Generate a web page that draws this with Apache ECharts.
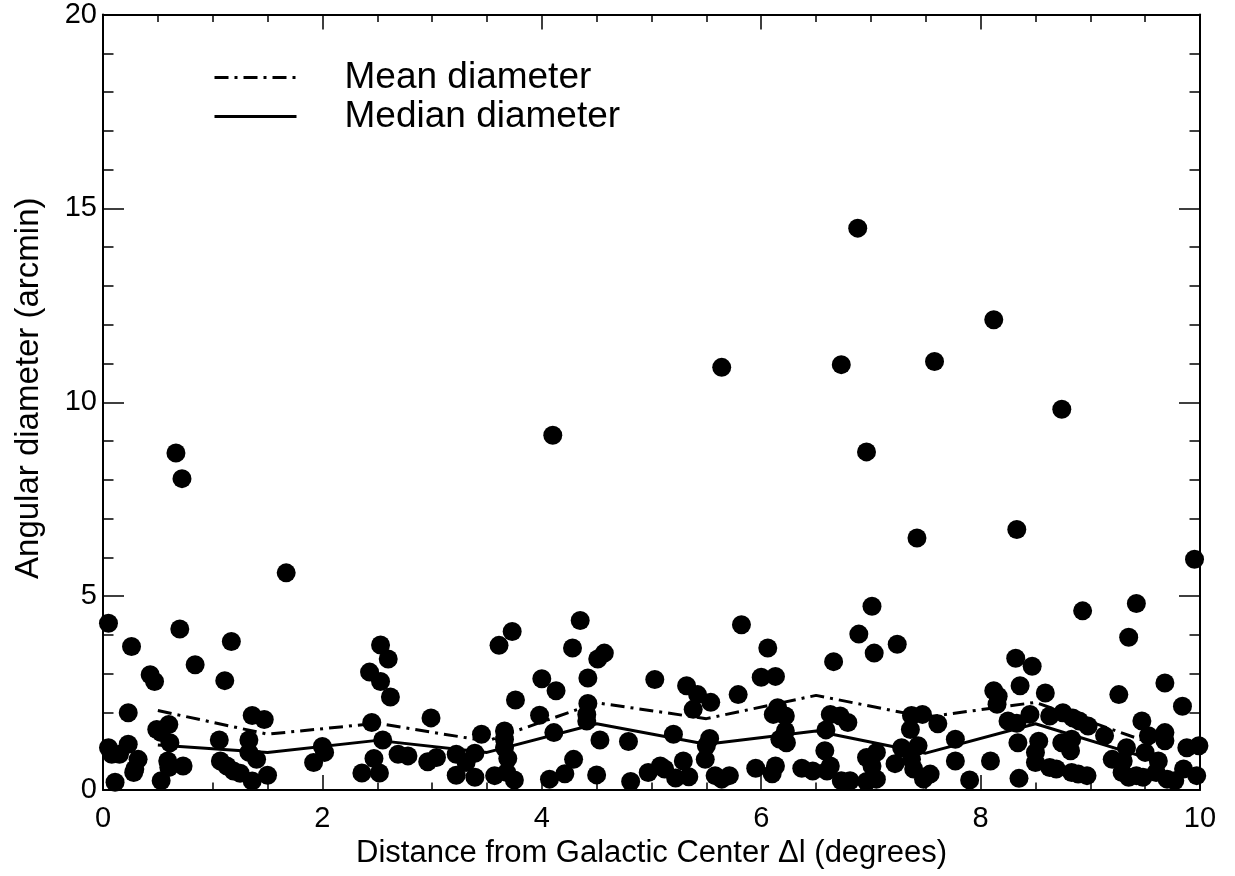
<!DOCTYPE html>
<html>
<head>
<meta charset="utf-8">
<script src="https://cdn.jsdelivr.net/npm/echarts@6/dist/echarts.min.js"></script>
<style>
  html, body { margin: 0; padding: 0; background: #fff; }
  #chart { width: 1235px; height: 876px; }
</style>
</head>
<body>
<div id="chart"></div>
<script>
// bin centres for the mean / median curves
const binCenters = [0.5, 1.5, 2.5, 3.5, 4.5, 5.5, 6.5, 7.5, 8.5, 9.5]
const meanDiameter = [2.05, 1.44, 1.72, 1.26, 2.25, 1.84, 2.44, 1.88, 2.26, 1.26]
const medianDiameter = [1.16, 0.97, 1.28, 0.97, 1.71, 1.18, 1.52, 0.95, 1.71, 0.84]

// individual sources: [distance (deg), angular diameter (arcmin)]
const sources = [
  [0.05, 4.30], [0.70, 4.15], [0.26, 3.70], [1.17, 3.83], [0.84, 3.23], [0.43, 2.97], [0.47, 2.80],
  [1.11, 2.82], [0.23, 1.99], [1.36, 1.92], [1.47, 1.82], [0.49, 1.56], [0.60, 1.69], [0.53, 1.48],
  [0.61, 1.22], [0.05, 1.09], [0.08, 0.92], [0.15, 0.92], [0.23, 1.18], [0.32, 0.79], [0.29, 0.54],
  [0.28, 0.45], [0.11, 0.20], [0.53, 0.24], [0.59, 0.75], [0.60, 0.58], [0.73, 0.62], [1.06, 1.29],
  [1.07, 0.75], [1.13, 0.62], [1.19, 0.49], [1.25, 0.43], [1.33, 1.29], [1.33, 0.97], [1.40, 0.79],
  [1.36, 0.23], [1.50, 0.38], [0.665, 8.69], [0.72, 8.03], [1.67, 5.60],
  [2.53, 3.74], [2.60, 3.38], [2.43, 3.04], [2.53, 2.80], [2.62, 2.40], [2.45, 1.74], [2.99, 1.86],
  [2.55, 1.29], [2.00, 1.12], [2.02, 0.97], [1.92, 0.71], [2.47, 0.81], [2.69, 0.92], [2.78, 0.88],
  [2.96, 0.73], [3.04, 0.84], [2.36, 0.44], [2.52, 0.44], [3.22, 0.92], [3.22, 0.38], [3.31, 0.71],
  [4.35, 4.37], [3.73, 4.09], [3.61, 3.73], [4.28, 3.66], [4.51, 3.38], [4.57, 3.53], [4.00, 2.87],
  [4.13, 2.56], [4.42, 2.89], [3.76, 2.32], [3.98, 1.93], [4.42, 2.23], [4.41, 1.95], [4.41, 1.78],
  [4.11, 1.48], [3.45, 1.44], [3.66, 1.52], [3.66, 1.31], [3.66, 1.09], [3.69, 0.81], [3.39, 0.95],
  [3.39, 0.33], [3.57, 0.37], [3.68, 0.45], [3.75, 0.26], [4.07, 0.28], [4.21, 0.42], [4.29, 0.79],
  [4.53, 1.29], [4.79, 1.25], [4.50, 0.39], [4.81, 0.22], [4.97, 0.45], [4.10, 9.15],
  [5.82, 4.26], [6.06, 3.66], [5.03, 2.85], [6.00, 2.91], [6.13, 2.93], [5.32, 2.69], [5.42, 2.46],
  [5.54, 2.26], [5.79, 2.46], [5.38, 2.08], [6.15, 2.12], [6.11, 1.95], [6.22, 1.91], [6.22, 1.52],
  [6.17, 1.31], [6.23, 1.22], [6.63, 1.95], [6.59, 1.55], [5.20, 1.44], [5.53, 1.33], [5.50, 1.14],
  [5.49, 0.79], [5.29, 0.75], [5.08, 0.62], [5.12, 0.54], [5.22, 0.31], [5.34, 0.34], [5.58, 0.37],
  [5.64, 0.28], [5.71, 0.37], [5.95, 0.56], [6.13, 0.62], [6.10, 0.42], [6.37, 0.56], [6.47, 0.49],
  [6.58, 1.01], [6.63, 0.62], [6.60, 0.49],
  [7.01, 4.74], [6.89, 4.02], [7.24, 3.76], [7.03, 3.53], [6.66, 3.31], [8.32, 3.40], [8.36, 2.69],
  [8.12, 2.56], [8.16, 2.42], [8.15, 2.21], [6.72, 1.91], [6.79, 1.74], [7.37, 1.92], [7.47, 1.95],
  [7.36, 1.56], [7.61, 1.71], [8.25, 1.78], [8.33, 1.72], [7.28, 1.09], [7.43, 1.14], [7.77, 1.31],
  [8.34, 1.22], [6.96, 0.84], [7.05, 0.97], [7.01, 0.62], [7.22, 0.68], [7.37, 0.79], [7.39, 0.54],
  [7.77, 0.75], [8.09, 0.75], [6.73, 0.24], [6.81, 0.24], [6.96, 0.22], [7.05, 0.28], [7.48, 0.28],
  [7.54, 0.41], [7.90, 0.26], [8.35, 0.30],
  [5.64, 10.90], [6.88, 14.49], [6.73, 10.97], [6.96, 8.72], [7.58, 11.05], [8.12, 12.13],
  [8.74, 9.82], [7.42, 6.50], [8.33, 6.72], [9.95, 5.95],
  [9.42, 4.81], [8.93, 4.62], [9.35, 3.94], [8.47, 3.19], [9.68, 2.76], [9.26, 2.46], [8.59, 2.50],
  [9.84, 2.16], [8.45, 1.95], [8.63, 1.91], [8.75, 1.99], [8.84, 1.86], [8.90, 1.78], [8.98, 1.65],
  [9.47, 1.78], [9.68, 1.48], [9.68, 1.27], [9.53, 1.40], [9.13, 1.40], [8.53, 1.26], [8.74, 1.22],
  [8.83, 1.31], [8.82, 1.01], [8.50, 0.97], [8.50, 0.71], [9.33, 1.09], [9.20, 0.79], [9.30, 0.75],
  [9.50, 0.97], [9.62, 0.75], [9.88, 1.09], [9.99, 1.14], [8.63, 0.58], [8.69, 0.54], [8.83, 0.45],
  [8.89, 0.41], [8.97, 0.37], [9.29, 0.45], [9.35, 0.33], [9.42, 0.37], [9.48, 0.33], [9.60, 0.45],
  [9.70, 0.28], [9.77, 0.24], [9.85, 0.54], [9.97, 0.37]
]

const FONT = 'Liberation Sans'
const chart = echarts.init(document.getElementById('chart'), null, { renderer: 'canvas' })

function frameAxis(pos, interval, minorSplit, tickLen, showLabels, extra) {
  return Object.assign({
    type: 'value',
    position: pos,
    min: 0,
    interval: interval,
    axisLine: { show: true, onZero: false, lineStyle: { color: '#000', width: 2 } },
    axisTick: { show: true, inside: true, length: tickLen, lineStyle: { color: '#000', width: 1.5 } },
    minorTick: { show: true, splitNumber: minorSplit, length: tickLen / 2, lineStyle: { color: '#000', width: 1.5 } },
    splitLine: { show: false },
    minorSplitLine: { show: false },
    axisLabel: { show: showLabels, color: '#000', fontFamily: FONT, fontSize: 29 }
  }, extra)
}

chart.setOption({
  animation: false,
  backgroundColor: '#fff',
  grid: { left: 103, right: 35, top: 12, bottom: 86 },
  legend: {
    orient: 'vertical',
    left: 208,
    top: 54,
    itemWidth: 82,
    itemHeight: 14,
    itemGap: 2,
    itemStyle: { opacity: 0 },
    lineStyle: { width: 3 },
    data: ['Mean diameter', 'Median diameter'],
    textStyle: { color: '#000', fontFamily: FONT, fontSize: 37, padding: [0, 0, 0, 43] }
  },
  xAxis: [
    frameAxis('bottom', 2, 4, 15, true, {
      max: 10,
      name: 'Distance from Galactic Center \u0394l (degrees)',
      nameLocation: 'middle',
      nameGap: 33,
      nameTextStyle: { color: '#000', fontFamily: FONT, fontSize: 31 },
      axisLabel: { show: true, color: '#000', fontFamily: FONT, fontSize: 29, margin: 14 }
    }),
    frameAxis('top', 2, 4, 15, false, { max: 10 })
  ],
  yAxis: [
    frameAxis('left', 5, 5, 21, true, {
      max: 20,
      name: 'Angular diameter (arcmin)',
      nameLocation: 'middle',
      nameGap: 58,
      nameTextStyle: { color: '#000', fontFamily: FONT, fontSize: 33, padding: [0, 0, 0, 28] },
      axisLabel: { show: true, color: '#000', fontFamily: FONT, fontSize: 29, margin: 6 }
    }),
    frameAxis('right', 5, 5, 21, false, { max: 20 })
  ],
  series: [
    {
      name: 'sources',
      type: 'scatter',
      symbol: 'circle',
      symbolSize: 19,
      itemStyle: { color: '#000', opacity: 1 },
      data: sources
    },
    {
      name: 'Mean diameter',
      type: 'line',
      symbol: 'none',
      itemStyle: { color: '#000' },
      lineStyle: { color: '#000', width: 3, type: [14, 6, 3, 6] },
      data: binCenters.map((x, i) => [x, meanDiameter[i]])
    },
    {
      name: 'Median diameter',
      type: 'line',
      symbol: 'none',
      itemStyle: { color: '#000' },
      lineStyle: { color: '#000', width: 3 },
      data: binCenters.map((x, i) => [x, medianDiameter[i]])
    }
  ]
})
</script>
</body>
</html>
